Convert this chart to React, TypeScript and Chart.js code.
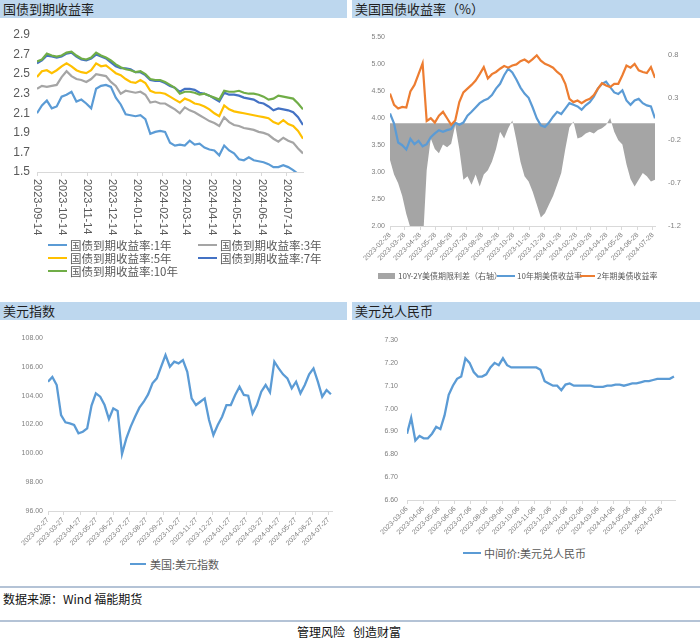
import React, { useEffect, useRef } from 'react';
import { Chart, registerables } from 'chart.js';

Chart.register(...registerables);

// ---------------- data ----------------
// Chart 1: 国债到期收益率 (sampled every 6 days from start)
const cnStartDate = '2023-09-14';
const cnStepDays = 6;
const cnEndDay = 324;
const cnTickLabels = ['2023-09-14', '2023-10-14', '2023-11-14', '2023-12-14', '2024-01-14', '2024-02-14', '2024-03-14', '2024-04-14', '2024-05-14', '2024-06-14', '2024-07-14'];
const cnSeriesNames = ['国债到期收益率:1年', '国债到期收益率:3年', '国债到期收益率:5年', '国债到期收益率:7年', '国债到期收益率:10年'];
const cn1y = [2.10, 2.18, 2.23, 2.15, 2.17, 2.27, 2.29, 2.32, 2.22, 2.24, 2.20, 2.15, 2.35, 2.38, 2.39, 2.37, 2.26, 2.19, 2.09, 2.08, 2.07, 2.08, 2.04, 1.89, 1.91, 1.92, 1.91, 1.80, 1.77, 1.78, 1.77, 1.82, 1.78, 1.79, 1.75, 1.73, 1.72, 1.67, 1.77, 1.72, 1.69, 1.63, 1.62, 1.65, 1.62, 1.61, 1.60, 1.58, 1.55, 1.55, 1.57, 1.55, 1.52, 1.48, 1.45];
const cn3y = [2.35, 2.38, 2.37, 2.38, 2.39, 2.47, 2.53, 2.48, 2.45, 2.44, 2.42, 2.45, 2.50, 2.49, 2.48, 2.42, 2.38, 2.30, 2.33, 2.32, 2.31, 2.32, 2.29, 2.21, 2.22, 2.20, 2.20, 2.17, 2.14, 2.10, 2.16, 2.13, 2.11, 2.08, 2.05, 2.02, 2.00, 1.97, 2.06, 2.01, 1.98, 1.97, 1.95, 1.94, 1.93, 1.91, 1.90, 1.88, 1.84, 1.81, 1.85, 1.82, 1.80, 1.74, 1.69];
const cn5y = [2.47, 2.53, 2.54, 2.51, 2.54, 2.58, 2.61, 2.58, 2.54, 2.52, 2.51, 2.54, 2.61, 2.58, 2.59, 2.55, 2.51, 2.49, 2.45, 2.42, 2.41, 2.44, 2.41, 2.33, 2.31, 2.31, 2.30, 2.27, 2.24, 2.21, 2.25, 2.23, 2.20, 2.19, 2.17, 2.14, 2.10, 2.07, 2.18, 2.14, 2.12, 2.11, 2.10, 2.09, 2.08, 2.07, 2.06, 2.05, 2.01, 1.99, 2.03, 1.99, 1.97, 1.92, 1.84];
const cn7y = [2.61, 2.64, 2.69, 2.68, 2.67, 2.68, 2.71, 2.72, 2.68, 2.65, 2.64, 2.66, 2.70, 2.68, 2.66, 2.62, 2.58, 2.56, 2.56, 2.55, 2.52, 2.52, 2.49, 2.44, 2.43, 2.43, 2.41, 2.38, 2.36, 2.32, 2.35, 2.35, 2.34, 2.31, 2.30, 2.28, 2.25, 2.22, 2.31, 2.29, 2.29, 2.28, 2.26, 2.25, 2.24, 2.21, 2.20, 2.17, 2.13, 2.15, 2.14, 2.13, 2.11, 2.06, 1.98];
const cn10y = [2.63, 2.65, 2.71, 2.69, 2.68, 2.69, 2.72, 2.73, 2.69, 2.66, 2.65, 2.67, 2.72, 2.69, 2.67, 2.64, 2.60, 2.57, 2.55, 2.54, 2.52, 2.53, 2.50, 2.45, 2.44, 2.44, 2.42, 2.39, 2.36, 2.30, 2.32, 2.32, 2.31, 2.29, 2.30, 2.28, 2.26, 2.24, 2.33, 2.32, 2.32, 2.33, 2.31, 2.30, 2.30, 2.29, 2.27, 2.24, 2.25, 2.28, 2.27, 2.26, 2.25, 2.20, 2.14];

// Chart 2: 美国国债收益率 (sampled every 8 days)
const usStartDate = '2023-02-28';
const usStepDays = 8;
const usEndDay = 520;
const usTickLabels = ['2023-02-28', '2023-03-28', '2023-04-28', '2023-05-28', '2023-06-28', '2023-07-28', '2023-08-28', '2023-09-28', '2023-10-28', '2023-11-28', '2023-12-28', '2024-01-28', '2024-02-28', '2024-03-28', '2024-04-28', '2024-05-28', '2024-06-28', '2024-07-28'];
const usRightTicks = [-1.2, -0.7, -0.2, 0.3, 0.8];
const usSeriesNames = ['10Y-2Y美债期限利差（右轴）', '10年期美债收益率', '2年期美债收益率'];
const usSpread = [-0.43, -0.60, -0.70, -0.85, -1.06, -1.22, -1.25, -1.30, -1.45, -0.55, -0.18, -0.30, -0.35, -0.25, -0.28, -0.24, -0.02, -0.30, -0.66, -0.62, -0.72, -0.60, -0.74, -0.60, -0.55, -0.45, -0.30, -0.10, -0.18, -0.06, 0.03, -0.20, -0.45, -0.62, -0.68, -0.80, -0.95, -1.10, -1.05, -0.95, -0.85, -0.72, -0.58, -0.30, -0.05, 0.02, -0.18, -0.16, -0.12, -0.10, -0.12, -0.08, -0.06, -0.02, 0.06, -0.10, -0.20, -0.25, -0.48, -0.65, -0.74, -0.66, -0.58, -0.62, -0.68, -0.66];
const us10y = [4.09, 3.90, 3.55, 3.50, 3.42, 3.62, 3.52, 3.58, 3.48, 3.52, 3.65, 3.72, 3.78, 3.75, 3.78, 3.80, 3.92, 3.88, 3.92, 4.05, 4.12, 4.20, 4.28, 4.33, 4.36, 4.43, 4.55, 4.64, 4.80, 4.92, 4.85, 4.72, 4.57, 4.46, 4.38, 4.20, 4.00, 3.87, 3.84, 3.92, 4.03, 4.12, 4.08, 4.18, 4.28, 4.25, 4.22, 4.16, 4.24, 4.30, 4.40, 4.55, 4.64, 4.68, 4.58, 4.48, 4.45, 4.52, 4.33, 4.25, 4.33, 4.36, 4.28, 4.24, 4.22, 4.00];
const us2y = [4.46, 4.25, 4.18, 4.21, 4.20, 4.50, 4.62, 4.82, 5.02, 3.95, 4.00, 3.92, 4.05, 4.12, 4.00, 3.88, 3.96, 4.30, 4.48, 4.55, 4.62, 4.70, 4.82, 4.95, 4.74, 4.82, 4.86, 4.92, 4.97, 4.94, 4.98, 5.00, 5.06, 5.09, 5.04, 5.10, 5.17, 5.07, 5.01, 4.98, 4.94, 4.86, 4.80, 4.64, 4.36, 4.30, 4.33, 4.28, 4.33, 4.36, 4.43, 4.55, 4.65, 4.61, 4.58, 4.64, 4.64, 4.80, 4.98, 4.94, 5.01, 4.89, 4.86, 4.84, 4.95, 4.75];

// Chart 3: 美元指数 (sampled every 8 days)
const dxyStartDate = '2023-02-27';
const dxyStepDays = 8;
const dxyEndDay = 522;
const dxyTickLabels = ['2023-02-27', '2023-03-27', '2023-04-27', '2023-05-27', '2023-06-27', '2023-07-27', '2023-08-27', '2023-09-27', '2023-10-27', '2023-11-27', '2023-12-27', '2024-01-27', '2024-02-27', '2024-03-27', '2024-04-27', '2024-05-27', '2024-06-27', '2024-07-27'];
const dxySeriesName = '美国:美元指数';
const dxy = [104.97, 105.3, 104.74, 102.66, 102.15, 102.08, 101.97, 101.39, 101.50, 101.73, 103.31, 104.16, 103.93, 103.35, 102.38, 103.12, 102.94, 99.95, 101.04, 101.85, 102.54, 103.17, 103.58, 104.09, 104.86, 105.20, 106.01, 106.82, 106.01, 106.36, 106.24, 106.47, 105.66, 103.81, 103.35, 103.58, 103.81, 102.31, 101.27, 101.97, 102.54, 103.35, 103.35, 104.05, 104.62, 104.05, 104.00, 102.77, 103.35, 104.28, 104.74, 104.23, 106.36, 105.89, 105.48, 105.20, 104.51, 104.97, 104.16, 104.74, 105.48, 105.89, 104.97, 103.93, 104.39, 104.10];

// Chart 4: 美元兑人民币 (sampled every 8 days)
const cnyStartDate = '2023-03-06';
const cnyStepDays = 8;
const cnyEndDay = 514;
const cnyTickLabels = ['2023-03-06', '2023-04-06', '2023-05-06', '2023-06-06', '2023-07-06', '2023-08-06', '2023-09-06', '2023-10-06', '2023-11-06', '2023-12-06', '2024-01-06', '2024-02-06', '2024-03-06', '2024-04-06', '2024-05-06', '2024-06-06', '2024-07-06'];
const cnySeriesName = '中间价:美元兑人民币';
const cny = [6.89, 6.96, 6.86, 6.88, 6.87, 6.87, 6.89, 6.92, 6.91, 6.97, 7.06, 7.10, 7.13, 7.14, 7.22, 7.20, 7.16, 7.14, 7.14, 7.15, 7.18, 7.20, 7.19, 7.22, 7.19, 7.18, 7.18, 7.18, 7.18, 7.18, 7.18, 7.18, 7.17, 7.12, 7.11, 7.10, 7.10, 7.08, 7.105, 7.11, 7.10, 7.10, 7.10, 7.10, 7.10, 7.095, 7.095, 7.095, 7.10, 7.10, 7.105, 7.105, 7.10, 7.105, 7.11, 7.11, 7.115, 7.12, 7.12, 7.125, 7.13, 7.13, 7.13, 7.13, 7.14];

// ---------------- styles ----------------
const LATIN = '"Liberation Sans", Arial, sans-serif';
const CJK = '"Noto Sans CJK SC", "Noto Sans", sans-serif';
const C_BLUE = '#5b9bd5';
const C_GRAY = '#a5a5a5';
const C_GOLD = '#ffc000';
const C_DBLUE = '#4472c4';
const C_GREEN = '#70ad47';
const C_ORANGE = '#ed7d31';
const AXIS_LINE = '#d9d9d9';
const TITLE_BG = '#bdd7ee';

const DAY_MS = 86400000;
const dayOffset = (d: string, start: string) => Math.round((Date.parse(d) - Date.parse(start)) / DAY_MS);
const toPoints = (vals: number[], step: number) => vals.map((y, i) => ({ x: i * step, y }));

function dateAxis(start: string, labels: string[], max: number, height: number, showLabels: boolean, fontSize: number) {
  const tickVals = labels.map((t) => dayOffset(t, start));
  return {
    type: 'linear',
    min: 0,
    max,
    afterBuildTicks: (s: any) => {
      s.ticks = tickVals.map((v) => ({ value: v }));
    },
    afterFit: (s: any) => {
      s.height = height;
    },
    grid: { display: true, drawOnChartArea: false, drawTicks: true, tickLength: 4, color: AXIS_LINE },
    border: { display: true, color: AXIS_LINE },
    ticks: {
      display: showLabels,
      autoSkip: false,
      minRotation: 45,
      maxRotation: 45,
      padding: 1,
      color: '#7f7f7f',
      font: { family: LATIN, size: fontSize },
      callback: (_v: any, i: number) => labels[i],
    },
  };
}

function valueAxis(min: number, max: number, step: number, digits: number, width: number, pad: number, size: number, color: string, position = 'left') {
  return {
    type: 'linear',
    position,
    min,
    max,
    afterFit: (s: any) => {
      s.width = width;
    },
    grid: { display: false, drawTicks: false },
    border: { display: false },
    ticks: {
      stepSize: step,
      padding: pad,
      color,
      font: { family: LATIN, size },
      callback: (v: any) => Number(v).toFixed(digits),
    },
  };
}

const verticalTickLabels = {
  id: 'verticalTickLabels',
  afterDraw(chart: any, _args: any, opts: any) {
    const { ctx } = chart;
    const xs = chart.scales.x;
    ctx.save();
    ctx.font = `11px ${LATIN}`;
    ctx.fillStyle = '#595959';
    ctx.textAlign = 'left';
    ctx.textBaseline = 'middle';
    (opts.labels as string[]).forEach((lab, i) => {
      const x = xs.getPixelForValue(opts.values[i]);
      ctx.save();
      ctx.translate(x, xs.top + 7);
      ctx.rotate(Math.PI / 2);
      ctx.fillText(lab, 0, 0);
      ctx.restore();
    });
    ctx.restore();
  },
};

const baseOptions = (padding: any) => ({
  responsive: false,
  animation: false,
  events: [],
  devicePixelRatio: 1,
  layout: { padding },
  elements: { point: { radius: 0 }, line: { tension: 0 } },
  plugins: { legend: { display: false }, tooltip: { enabled: false } },
});

function cnConfig() {
  const colors = [C_BLUE, C_GRAY, C_GOLD, C_DBLUE, C_GREEN];
  const series = [cn1y, cn3y, cn5y, cn7y, cn10y];
  return {
    type: 'line',
    data: {
      datasets: series.map((s, k) => ({
        label: cnSeriesNames[k],
        data: toPoints(s, cnStepDays),
        borderColor: colors[k],
        backgroundColor: colors[k],
        borderWidth: 2.2,
        pointRadius: 0,
        fill: false,
        order: 4 - k,
      })),
    },
    options: {
      ...baseOptions({ left: 0, top: 15, right: 44, bottom: 0 }),
      scales: {
        x: dateAxis(cnStartDate, cnTickLabels, cnEndDay, 68, false, 11),
        y: valueAxis(1.5, 2.9, 0.2, 1, 37, 7, 12, '#595959'),
      },
      plugins: {
        legend: { display: false },
        tooltip: { enabled: false },
        verticalTickLabels: { labels: cnTickLabels, values: cnTickLabels.map((t) => dayOffset(t, cnStartDate)) },
      },
    },
    plugins: [verticalTickLabels],
  };
}

function usConfig() {
  const right: any = valueAxis(-1.2, 1.0, 0.5, 1, 45, 13, 7.5, '#7f7f7f', 'right');
  right.afterBuildTicks = (s: any) => {
    s.ticks = usRightTicks.map((v) => ({ value: v }));
  };
  return {
    type: 'line',
    data: {
      datasets: [
        {
          label: usSeriesNames[0],
          data: toPoints(usSpread, usStepDays),
          yAxisID: 'y1',
          borderColor: C_GRAY,
          backgroundColor: C_GRAY,
          borderWidth: 0,
          pointRadius: 0,
          fill: 'origin',
          order: 2,
        },
        {
          label: usSeriesNames[1],
          data: toPoints(us10y, usStepDays),
          yAxisID: 'y',
          borderColor: C_BLUE,
          borderWidth: 2.2,
          pointRadius: 0,
          fill: false,
          order: 1,
        },
        {
          label: usSeriesNames[2],
          data: toPoints(us2y, usStepDays),
          yAxisID: 'y',
          borderColor: C_ORANGE,
          borderWidth: 2.2,
          pointRadius: 0,
          fill: false,
          order: 0,
        },
      ],
    },
    options: {
      ...baseOptions({ left: 0, top: 17, right: 0, bottom: 0 }),
      scales: {
        x: dateAxis(usStartDate, usTickLabels, usEndDay, 44, true, 7),
        y: valueAxis(2, 5.5, 0.5, 2, 40, 5, 7, '#7f7f7f'),
        y1: right,
      },
    },
  };
}

function dxyConfig() {
  return {
    type: 'line',
    data: {
      datasets: [
        {
          label: dxySeriesName,
          data: toPoints(dxy, dxyStepDays),
          borderColor: C_BLUE,
          borderWidth: 2.3,
          pointRadius: 0,
          fill: false,
        },
      ],
    },
    options: {
      ...baseOptions({ left: 0, top: 16, right: 15, bottom: 0 }),
      scales: {
        x: dateAxis(dxyStartDate, dxyTickLabels, dxyEndDay, 41, true, 7),
        y: valueAxis(96, 108, 2, 2, 48, 5, 7, '#7f7f7f'),
      },
    },
  };
}

function cnyConfig() {
  return {
    type: 'line',
    data: {
      datasets: [
        {
          label: cnySeriesName,
          data: toPoints(cny, cnyStepDays),
          borderColor: C_BLUE,
          borderWidth: 2.3,
          pointRadius: 0,
          fill: false,
        },
      ],
    },
    options: {
      ...baseOptions({ left: 0, top: 18, right: 25, bottom: 0 }),
      scales: {
        x: dateAxis(cnyStartDate, cnyTickLabels, cnyEndDay, 42, true, 7),
        y: valueAxis(6.6, 7.3, 0.1, 2, 55, 9, 7, '#7f7f7f'),
      },
    },
  };
}

function ChartCanvas({ left, top, width, height, make }: any) {
  const ref = useRef<HTMLCanvasElement>(null);
  useEffect(() => {
    const chart = new Chart(ref.current as HTMLCanvasElement, make());
    return () => chart.destroy();
  }, []);
  return <canvas ref={ref} width={width} height={height} style={{ position: 'absolute', left, top, width, height }} />;
}

function TitleBar({ left, top, width, text }: any) {
  return (
    <div
      style={{
        position: 'absolute',
        left,
        top,
        width,
        height: 18,
        background: TITLE_BG,
        fontFamily: CJK,
        fontSize: 13,
        lineHeight: '18px',
        color: '#1f1f1f',
        paddingLeft: 3,
        boxSizing: 'border-box',
        whiteSpace: 'nowrap',
      }}
    >
      {text}
    </div>
  );
}

function LegendItem({ x, y, kind, color, text, size, sampleW, gap }: any) {
  return (
    <div style={{ position: 'absolute', left: x, top: y - 8, height: 16, display: 'flex', alignItems: 'center', whiteSpace: 'nowrap' }}>
      <div style={{ width: sampleW, height: kind === 'box' ? 6 : 2.5, background: color }} />
      <span style={{ marginLeft: gap, fontSize: size, color: '#595959', fontFamily: CJK, lineHeight: '16px' }}>{text}</span>
    </div>
  );
}

export default function App() {
  return (
    <div style={{ position: 'absolute', left: 0, top: 0, width: 700, height: 640, background: '#fff', overflow: 'hidden' }}>
      <TitleBar left={0} top={0} width={347} text="国债到期收益率" />
      <TitleBar left={352} top={0} width={348} text="美国国债收益率（%）" />
      <TitleBar left={0} top={302} width={347} text="美元指数" />
      <TitleBar left={352} top={302} width={348} text="美元兑人民币" />

      <ChartCanvas left={0} top={20} width={347} height={220} make={cnConfig} />
      <ChartCanvas left={350} top={20} width={350} height={250} make={usConfig} />
      <ChartCanvas left={0} top={322} width={347} height={230} make={dxyConfig} />
      <ChartCanvas left={352} top={322} width={348} height={220} make={cnyConfig} />

      <LegendItem x={48} y={245} kind="line" color={C_BLUE} text={cnSeriesNames[0]} size={11.5} sampleW={19} gap={3} />
      <LegendItem x={198} y={245} kind="line" color={C_GRAY} text={cnSeriesNames[1]} size={11.5} sampleW={19} gap={3} />
      <LegendItem x={48} y={258} kind="line" color={C_GOLD} text={cnSeriesNames[2]} size={11.5} sampleW={19} gap={3} />
      <LegendItem x={198} y={258} kind="line" color={C_DBLUE} text={cnSeriesNames[3]} size={11.5} sampleW={19} gap={3} />
      <LegendItem x={48} y={271} kind="line" color={C_GREEN} text={cnSeriesNames[4]} size={11.5} sampleW={19} gap={3} />

      <LegendItem x={378} y={276} kind="box" color={C_GRAY} text={usSeriesNames[0]} size={8} sampleW={17} gap={3} />
      <LegendItem x={497} y={276} kind="line" color={C_BLUE} text={usSeriesNames[1]} size={8} sampleW={18} gap={2} />
      <LegendItem x={580} y={276} kind="line" color={C_ORANGE} text={usSeriesNames[2]} size={8} sampleW={15} gap={2} />

      <LegendItem x={130} y={564} kind="line" color={C_BLUE} text={dxySeriesName} size={11} sampleW={16} gap={4} />
      <LegendItem x={463} y={553} kind="line" color={C_BLUE} text={cnySeriesName} size={11} sampleW={18} gap={3} />

      <div style={{ position: 'absolute', left: 0, top: 586, width: 700, height: 2, background: '#b4c3d6' }} />
      <div style={{ position: 'absolute', left: 3, top: 591, fontFamily: CJK, fontSize: 12, lineHeight: '16px', color: '#111', whiteSpace: 'nowrap' }}>
        数据来源：Wind 福能期货
      </div>
      <div style={{ position: 'absolute', left: 0, top: 620, width: 700, height: 2, background: '#b4c3d6' }} />
      <div style={{ position: 'absolute', left: 297, top: 624, fontFamily: CJK, fontSize: 12, lineHeight: '16px', color: '#111', whiteSpace: 'nowrap' }}>
        管理风险&nbsp;&nbsp;&nbsp;创造财富
      </div>
    </div>
  );
}
